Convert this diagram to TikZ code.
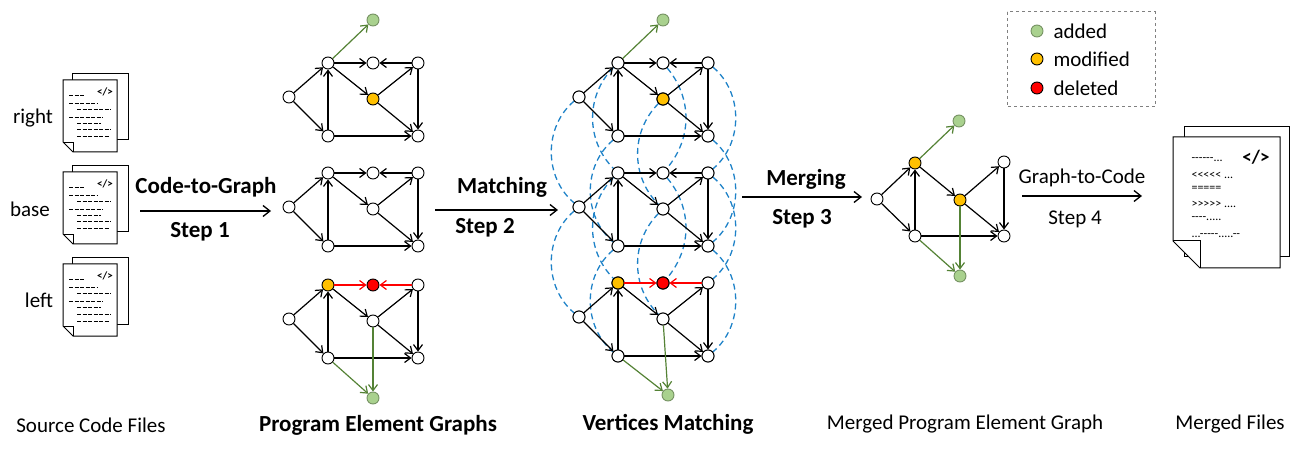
\documentclass[tikz,border=0pt]{standalone}
\usepackage{fontspec}
\setmainfont{Carlito}
\newfontfamily\rawf{Carlito}[Ligatures=TeXOff]
\usetikzlibrary{arrows.meta}
\definecolor{gfill}{RGB}{169,209,142}
\definecolor{gline}{RGB}{84,130,53}
\definecolor{yfill}{RGB}{255,192,0}
\definecolor{rfill}{RGB}{255,0,0}
\definecolor{bdash}{RGB}{30,130,200}
\tikzset{
  v/.style={circle,draw=black,fill=white,line width=0.9pt,minimum size=12pt,inner sep=0pt},
  vg/.style={v,fill=gfill,draw=gfill!70!black},
  vy/.style={v,fill=yfill},
  vr/.style={v,fill=rfill},
  e/.style={-{Straight Barb[length=6pt,width=9pt]},line width=1.2pt,shorten >=0pt},
  eg/.style={e,draw=gline},
  er/.style={e,draw=rfill},
  big/.style={-{Straight Barb[length=7pt,width=11pt]},line width=1.3pt},
  md/.style={dashed,draw=bdash,line width=1.3pt,dash pattern=on 6pt off 4pt},
  llab/.style={font=\fontsize{21}{21}\selectfont},
  blab/.style={font=\bfseries\fontsize{23}{23}\selectfont},
  pg/.style={draw=black,fill=white,line width=1pt}
}
\newcommand\gnodes[4]{
  \node[v] (#1L) at (-39,34) {};
  \node[#2] (#1TL) at (0,0) {};
  \node[#3] (#1TM) at (45,0) {};
  \node[v] (#1TR) at (90,0) {};
  \node[#4] (#1C) at (45,36) {};
  \node[v] (#1BL) at (0,73) {};
  \node[v] (#1BR) at (90,73) {};
}
\newcommand\gedges[2]{
  \draw[e] (#1L) -- (#1TL); \draw[e] (#1L) -- (#1BL);
  \draw[e] (#1BL) -- (#1TL); \draw[#2] (#1TL) -- (#1TM);
  \draw[#2] (#1TR) -- (#1TM); \draw[e] (#1TL) -- (#1C);
  \draw[e] (#1C) -- (#1TR); \draw[e] (#1C) -- (#1BR);
  \draw[e] (#1TR) -- (#1BR); \draw[e] (#1BL) -- (#1BR);
}
\newcommand\srcfile[2]{%
\begin{scope}[shift={(#1,#2)}]
  \draw[pg] (9,-6) rectangle (65,60);
  \draw[pg] (0,0) -- (54,0) -- (54,72) -- (10,72) -- (0,62) -- cycle;
  \draw[line width=0.8pt] (0,62) -- (10,62) -- (10,72);
  \node[font=\bfseries\fontsize{11}{11}\selectfont] at (42,12) {</>};
  \foreach \y/\a/\b in {16/6/22,24/6/34,30/14/48,38/6/40,44/14/38,50/14/48,57/14/46}
    \draw[line width=1pt,dash pattern=on 4pt off 1.5pt] (\a,\y) -- (\b,\y);
\end{scope}}
\begin{document}
\begin{tikzpicture}[x=1pt,y=-1pt]
\useasboundingbox (0,0) rectangle (1310,449);
\srcfile{63}{80}
\srcfile{63}{172}
\srcfile{63}{264}
\node[llab] at (33,118) {right};
\node[llab] at (30,209) {base};
\node[llab] at (39,300) {left};
\node[llab] at (91,425) {Source Code Files};
\draw[big] (140,211) -- (271,211);
\node[blab] at (206,187) {Code-to-Graph};
\node[blab] at (200,232) {Step 1};
\begin{scope}[shift={(328,63)}]
  \gnodes{a}{v}{v}{vy}
  \node[vg] (aG) at (45,-43) {};
\end{scope}
\gedges{a}{e}
\draw[eg] (aTL) -- (aG);
\begin{scope}[shift={(328,173)}]
  \gnodes{b}{v}{v}{v}
\end{scope}
\gedges{b}{e}
\begin{scope}[shift={(328,285)}]
  \gnodes{c}{vy}{vr}{v}
  \node[vg] (cG) at (45,113) {};
\end{scope}
\gedges{c}{er}
\draw[eg] (cC) -- (cG); \draw[eg] (cBL) -- (cG);
\node[blab] at (378,425) {Program Element Graphs};
\draw[big] (435,210) -- (558,210);
\node[blab] at (502,187) {Matching};
\node[blab] at (485,228) {Step 2};
\begin{scope}[shift={(618,63)}]
  \gnodes{p}{v}{v}{vy}
  \node[vg] (pG) at (45,-43) {};
\end{scope}
\begin{scope}[shift={(618,173)}]
  \gnodes{q}{v}{v}{v}
\end{scope}
\begin{scope}[shift={(618,283)}]
  \gnodes{r}{vy}{vr}{v}
  \node[vg] (rG) at (50,112) {};
\end{scope}
\foreach \n/\bb in {L/50,TL/45,BL/50,C/45} {
  \draw[md] (p\n) to[bend right=\bb] (q\n);
  \draw[md] (q\n) to[bend right=\bb] (r\n);
}
\foreach \n/\bb in {TM/40,TR/50,BR/50} {
  \draw[md] (p\n) to[bend left=\bb] (q\n);
  \draw[md] (q\n) to[bend left=\bb] (r\n);
}
\foreach \n in {L,TL,TM,TR,C,BL,BR} {
  \node[v] at (p\n) {}; \node[v] at (q\n) {}; \node[v] at (r\n) {};
}
\node[vy] at (pC) {}; \node[vy] at (rTL) {}; \node[vr] at (rTM) {};
\gedges{p}{e}
\gedges{q}{e}
\gedges{r}{er}
\draw[eg] (pTL) -- (pG);
\draw[eg] (rC) -- (rG); \draw[eg] (rBL) -- (rG);
\node[blab] at (668,424) {Vertices Matching};
\draw[big] (742,197) -- (862,197);
\node[blab] at (806,179) {Merging};
\node[blab] at (802,219) {Step 3};
\node[v] (mL) at (877,199) {};
\node[vy] (mTL) at (915,163) {};
\node[vy] (mC) at (960,200) {};
\node[v] (mTR) at (1004,162) {};
\node[v] (mBL) at (915,236) {};
\node[v] (mBR) at (1004,236) {};
\node[vg] (mG1) at (959,121) {};
\node[vg] (mG2) at (960,276) {};
\draw[e] (mL) -- (mTL); \draw[e] (mL) -- (mBL); \draw[e] (mBL) -- (mTL);
\draw[e] (mTL) -- (mC); \draw[e] (mC) -- (mTR); \draw[e] (mC) -- (mBR);
\draw[e] (mTR) -- (mBR); \draw[e] (mBL) -- (mBR);
\draw[eg] (mTL) -- (mG1); \draw[eg] (mC) -- (mG2); \draw[eg] (mBL) -- (mG2);
\node[llab] at (965,424) {Merged Program Element Graph};
\draw[big] (1022,196) -- (1142,196);
\node[llab] at (1082,178) {Graph-to-Code};
\node[llab] at (1075,219) {Step 4};
\draw[pg] (1184,127) rectangle (1289,257);
\draw[pg] (1173,137) -- (1280,137) -- (1280,268) -- (1200,268) -- (1173,241) -- cycle;
\draw[line width=1pt] (1173,241) -- (1200,241) -- (1200,268);
\node[font=\bfseries\fontsize{19}{19}\selectfont] at (1256,157) {</>};
\begin{scope}[every node/.style={anchor=west,font=\rawf\fontsize{12}{12}\selectfont}]
\node at (1188,160) {------...};
\node at (1188,175) {<<<<< ...};
\node at (1188,189) {=====};
\node at (1188,204) {>>>>> ....};
\node at (1188,219) {----.....};
\node at (1188,236) {...-----.....--};
\end{scope}
\node[llab] at (1230,424) {Merged Files};
\draw[dashed,draw=gray,line width=1pt] (1007,12) rectangle (1155,107);
\node[vg] (lg1) at (1037,31) {};
\node[vy] (lg2) at (1037,59) {};
\node[vr] (lg3) at (1037,88) {};
\node[llab,anchor=west] at (1050,31) {added};
\node[llab,anchor=west] at (1050,59) {modified};
\node[llab,anchor=west] at (1050,88) {deleted};
\end{tikzpicture}
\end{document}
